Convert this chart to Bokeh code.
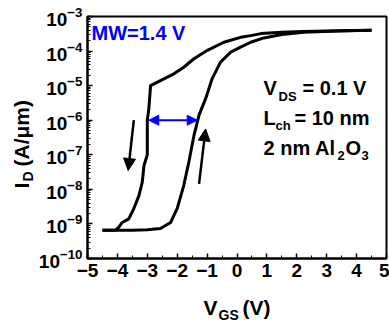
from math import pi
from bokeh.plotting import figure
from bokeh.models import (FixedTicker, Label, Arrow, NormalHead, LinearAxis, LogAxis)
from bokeh.embed import file_html
from bokeh.resources import INLINE

# ---------------- data ----------------
# forward sweep (V_GS increasing)
fwd_vgs = [-4.5, -3.5, -3.0, -2.56, -2.22, -2.0, -1.78, -1.61, -1.44, -1.27,
           -1.05, -0.83, -0.55, -0.21, 0.12, 0.46, 0.9, 1.5, 2.23, 3.4, 4.5]
fwd_id = [6.6e-10, 6.6e-10, 6.8e-10, 7.4e-10, 1.1e-9, 2.8e-9, 1.3e-8, 6.2e-8, 3.6e-7, 1.4e-6,
          4.2e-6, 1.6e-5, 4.8e-5, 9.3e-5, 1.3e-4, 1.8e-4, 2.4e-4, 3.0e-4, 3.5e-4, 3.8e-4, 4.0e-4]

# reverse sweep (V_GS decreasing)
rev_vgs = [4.5, 3.4, 2.2, 1.5, 0.8, 0.46, 0.12, -0.44, -0.99, -1.44, -1.78, -2.11, -2.56,
           -2.89, -2.95, -3.0, -3.0, -3.11, -3.17, -3.28, -3.45, -3.62, -3.84, -3.95, -4.06, -4.5]
rev_id = [4.0e-4, 3.9e-4, 3.7e-4, 3.5e-4, 3.2e-4, 2.8e-4, 2.5e-4, 1.8e-4, 1.05e-4, 6.0e-5,
          3.4e-5, 2.2e-5, 1.4e-5, 1.0e-5, 2.1e-6, 1.0e-6, 1.0e-7, 4.9e-8, 1.6e-8, 6.6e-9,
          2.8e-9, 1.4e-9, 1.1e-9, 8.1e-10, 6.6e-10, 6.6e-10]

x_ticks = [-5, -4, -3, -2, -1, 0, 1, 2, 3, 4, 5]
y_ticks = [1e-10, 1e-9, 1e-8, 1e-7, 1e-6, 1e-5, 1e-4, 1e-3]

# memory window arrow (V_GS at I_D = 1e-6)
mw_vgs = [-2.95, -1.33]
mw_id = 1e-6
mw_text = "MW=1.4 V"

# sweep direction arrows: (V_GS start, I_D start, V_GS end, I_D end)
down_arrow = [-3.45, 1.0e-6, -3.64, 3.5e-8]
up_arrow = [-1.27, 1.45e-8, -1.05, 5.6e-7]

# ---------------- geometry (pixels of the axes box) ----------------
FL, FR, FT, FB = 87, 386, 16, 258
W, H = 389, 325
XR = (x_ticks[0], x_ticks[-1])
YE = (-10, -3)


def sx(px):
    return XR[0] + (px - FL) / (FR - FL) * (XR[1] - XR[0])


def sy(py):
    return 10 ** (YE[1] - (py - FT) / (FB - FT) * (YE[1] - YE[0]))


p = figure(width=W, height=H, x_range=(sx(0), sx(W)), y_range=(sy(H), sy(0)),
           y_axis_type="log", x_axis_location=None, y_axis_location=None,
           output_backend="svg", toolbar_location=None,
           min_border_left=0, min_border_right=0, min_border_top=0, min_border_bottom=0)
p.grid.visible = False
p.background_fill_color = "white"
p.border_fill_color = "white"
p.outline_line_color = None

FONT = "Liberation Sans"

xax = LinearAxis(fixed_location=y_ticks[0], bounds=XR,
                 ticker=FixedTicker(ticks=x_ticks,
                                    minor_ticks=[t + 0.5 for t in x_ticks[:-1]]))
yax = LogAxis(fixed_location=x_ticks[0], bounds=(y_ticks[0], y_ticks[-1]),
              ticker=FixedTicker(ticks=y_ticks,
                                 minor_ticks=[m * t for t in y_ticks[:-1] for m in range(2, 10)]))
for ax in (xax, yax):
    ax.axis_line_width = 2
    ax.axis_line_color = "black"
    ax.major_tick_in = 5
    ax.major_tick_out = 0
    ax.minor_tick_in = 3
    ax.minor_tick_out = 0
    ax.major_tick_line_width = 1.5
    ax.minor_tick_line_width = 1
    ax.major_label_text_font = FONT
    ax.major_label_text_font_style = "bold"
    ax.major_label_text_font_size = "19px"
    ax.major_label_text_color = "black"
    ax.major_label_standoff = 5
p.add_layout(xax, "below")
p.add_layout(yax, "left")

# box around the axes area
p.quad(left=XR[0], right=XR[1], bottom=y_ticks[0], top=y_ticks[-1],
       fill_color=None, line_color="black", line_width=2)

p.line(fwd_vgs, fwd_id, line_color="black", line_width=3, line_join="round")
p.line(rev_vgs, rev_id, line_color="black", line_width=3, line_join="round")

p.add_layout(Arrow(start=NormalHead(size=10, fill_color="blue", line_color="blue"),
                   end=NormalHead(size=10, fill_color="blue", line_color="blue"),
                   x_start=mw_vgs[0], y_start=mw_id, x_end=mw_vgs[1], y_end=mw_id,
                   line_color="blue", line_width=2))
for a in (down_arrow, up_arrow):
    p.add_layout(Arrow(end=NormalHead(size=12, fill_color="black", line_color="black"),
                       x_start=a[0], y_start=a[1], x_end=a[2], y_end=a[3],
                       line_color="black", line_width=2.5))

SHIFT = 0.4  # empirical baseline correction, in em


def lab(px, py, text, size, color="black", angle=0):
    if angle:
        px = px - SHIFT * size
    else:
        py = py - SHIFT * size
    p.add_layout(Label(x=sx(px), y=sy(py), text=text, text_font=FONT,
                       text_font_style="bold", text_font_size=f"{size}px",
                       text_color=color, text_align="left", text_baseline="alphabetic",
                       angle=angle))


lab(91, 40, mw_text, 20, color="blue")

lab(263, 95.7, "V", 20)
lab(278, 101, "DS", 13)
lab(302, 95.7, "= 0.1 V", 20)
lab(263, 125, "L", 20)
lab(275, 130, "ch", 13)
lab(294, 125, "= 10 nm", 20)
lab(263, 155, "2 nm Al", 20)
lab(337, 160, "2", 13)
lab(345, 155, "O", 20)
lab(361, 160, "3", 13)

# axis titles
lab(203, 315, "V", 21)
lab(218, 320, "GS", 14)
lab(242, 315, "(V)", 21)
lab(29, 188, "I", 21, angle=pi / 2)
lab(33, 181, "D", 14, angle=pi / 2)
lab(29, 166, "(A/μm)", 21, angle=pi / 2)

open("out.html", "w").write(file_html(p, INLINE))
